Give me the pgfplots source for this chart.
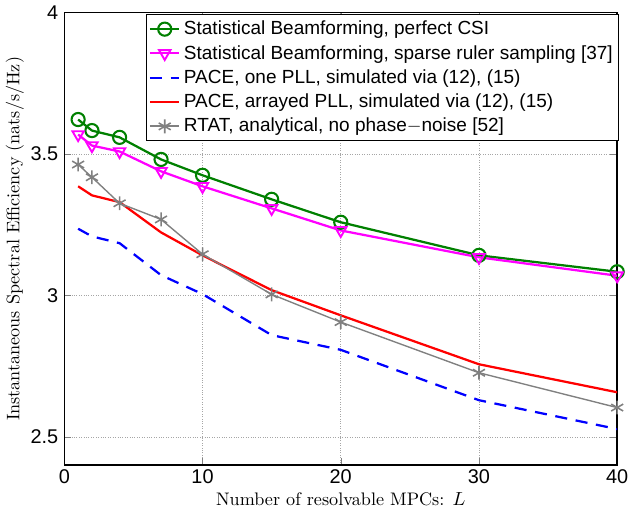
\documentclass[border=0pt]{standalone}
\usepackage{pgfplots}
\pgfplotsset{compat=1.18}
\usepackage{fontspec}
\newfontfamily\arialf{Liberation Sans}
\definecolor{mgreen}{rgb}{0,0.5,0}
\definecolor{mgray}{rgb}{0.5,0.5,0.5}
\definecolor{mmagenta}{rgb}{1,0,1}
\definecolor{mblue}{rgb}{0,0,1}
\definecolor{mred}{rgb}{1,0,0}
\begin{document}
\begin{tikzpicture}
\begin{axis}[
    scale only axis,
    width=320pt,
    height=262pt,
    xmin=0, xmax=40,
    ymin=2.4, ymax=4,
    xtick={0,10,20,30,40},
    ytick={2.5,3,3.5,4},
    yticklabels={2.5,3,3.5,4},
    xticklabels={0,10,20,30,40},
    tick label style={font=\arialf\fontsize{11.5}{12}\selectfont},
    xticklabel style={yshift=1pt},
    tick align=inside,
    major tick length=4pt,
    xmajorgrids, ymajorgrids,
    grid style={densely dotted, gray!70, line width=0.5pt},
    axis line style={line width=0.9pt},
    xlabel={Number of resolvable MPCs: $L$},
    ylabel={Instantaneous Spectral Efficiency (nats/s/Hz)},
    label style={font=\fontsize{10.5}{12}\selectfont},
    xlabel style={yshift=2pt},
    ylabel style={yshift=-3pt},
    legend cell align=left,
    legend style={at={(rel axis cs:1.004,0.996)}, anchor=north east,
        font=\arialf\fontsize{11}{12}\selectfont, draw=black, line width=0.6pt,
        row sep=0.6pt, inner sep=1.5pt},
    legend image post style={line width=1.2pt},
]
\addplot[mgreen, line width=1.3pt, mark=o, mark size=3.8pt, mark options={solid, line width=1.2pt}] coordinates {
(1,3.622) (2,3.583) (4,3.559) (7,3.481) (10,3.425) (15,3.340) (20,3.259) (30,3.142) (40,3.084)};
\addlegendentry{Statistical Beamforming, perfect CSI}
\addplot[mmagenta, line width=1.3pt, mark=triangle, mark size=3.8pt, mark options={solid, rotate=180, line width=1.1pt}] coordinates {
(1,3.569) (2,3.530) (4,3.509) (7,3.439) (10,3.386) (15,3.308) (20,3.230) (30,3.135) (40,3.070)};
\addlegendentry{Statistical Beamforming, sparse ruler sampling [37]}
\addplot[mblue, line width=1.3pt, dash pattern=on 7pt off 5pt] coordinates {
(1,3.236) (2,3.209) (4,3.185) (7,3.072) (10,3.005) (15,2.860) (20,2.808) (30,2.630) (40,2.528)};
\addlegendentry{PACE, one PLL, simulated via (12), (15)}
\addplot[mred, line width=1.3pt] coordinates {
(1,3.386) (2,3.354) (4,3.330) (7,3.223) (10,3.142) (15,3.019) (20,2.930) (30,2.757) (40,2.658)};
\addlegendentry{PACE, arrayed PLL, simulated via (12), (15)}
\addplot[mgray, line width=0.8pt, mark=asterisk, mark size=4pt, mark options={solid, line width=0.9pt}] coordinates {
(1,3.463) (2,3.418) (4,3.326) (7,3.269) (10,3.146) (15,3.004) (20,2.906) (30,2.727) (40,2.604)};
\addlegendentry{RTAT, analytical, no phase$-$noise [52]}
\end{axis}
\end{tikzpicture}
\end{document}
